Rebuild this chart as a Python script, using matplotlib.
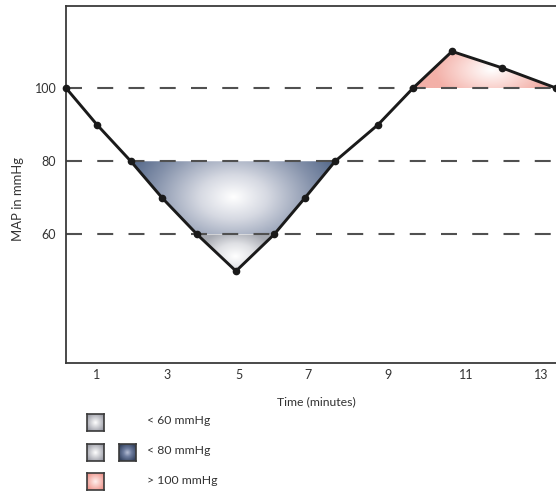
import numpy as np
import matplotlib
matplotlib.use("Agg")
import matplotlib.pyplot as plt
from matplotlib.colors import LinearSegmentedColormap
from matplotlib.patches import Polygon

# ---- data ----
time_min = [0.0, 0.82, 1.72, 2.55, 3.48, 4.51, 5.52, 6.34, 7.14, 8.28, 9.21, 10.24, 11.57, 13.0]
map_mmhg = [100, 90, 80, 70, 60, 50, 60, 70, 80, 90, 100, 110, 105.5, 100]
xtick_pos = [0.82, 2.68, 4.58, 6.42, 8.54, 10.61, 12.60]
xtick_labels = ["1", "3", "5", "7", "9", "11", "13"]
ytick_vals = [60, 80, 100]
thresholds = [60, 80, 100]
legend_labels = ["< 60 mmHg", "< 80 mmHg", "> 100 mmHg"]

plt.rcParams['font.family'] = ['Lato', 'DejaVu Sans']
plt.rcParams['lines.scale_dashes'] = False
TXT = '#333333'

W, H = 556, 492
fig = plt.figure(figsize=(W / 100, H / 100), dpi=100)
ax = fig.add_axes([66 / W, 129 / H, 490 / W, 357 / H])
ax.set_xlim(0, 13)
ax.set_ylim(24.9, 122.4)

t = np.array(time_min, float)
v = np.array(map_mmhg, float)

def make_cmap(stops):
    return LinearSegmentedColormap.from_list('g', stops)

def radial_fill(poly_xy, cmap, sx=1.0, sy=1.0, cshift=(0, 0), z=1):
    poly_xy = np.asarray(poly_xy)
    x0, x1 = poly_xy[:, 0].min(), poly_xy[:, 0].max()
    y0, y1 = poly_xy[:, 1].min(), poly_xy[:, 1].max()
    cx = (x0 + x1) / 2 + cshift[0] * (x1 - x0)
    cy = (y0 + y1) / 2 + cshift[1] * (y1 - y0)
    hw, hh = (x1 - x0) / 2, (y1 - y0) / 2
    gx = np.linspace(x0, x1, 300)
    gy = np.linspace(y0, y1, 200)
    X, Y = np.meshgrid(gx, gy)
    d = np.sqrt(((X - cx) / (hw * sx)) ** 2 + ((Y - cy) / (hh * sy)) ** 2)
    d = np.clip(d, 0, 1)
    im = ax.imshow(d, extent=(x0, x1, y0, y1), origin='lower', cmap=cmap,
                   vmin=0, vmax=1, aspect='auto', zorder=z, interpolation='bilinear')
    patch = Polygon(poly_xy, closed=True, transform=ax.transData, facecolor='none', edgecolor='none')
    ax.add_patch(patch)
    im.set_clip_path(patch)

# blue region: between the two 80-crossings, clipped at 60
idx_b = list(range(2, 9))
bp = np.column_stack([t[idx_b], np.maximum(v[idx_b], 60)])
radial_fill(bp, make_cmap([(0, '#ffffff'), (0.3, '#d6d9e2'), (0.72, '#8592ab'), (1, '#566a8b')]),
            sx=1.1, sy=2.0)

# gray region: below 60
idx_g = [4, 5, 6]
gp = np.column_stack([t[idx_g], v[idx_g]])
radial_fill(gp, make_cmap([(0, '#ffffff'), (0.5, '#dfe0e4'), (1, '#a6a9b1')]),
            sx=1.0, sy=1.4, cshift=(0, -0.1))

# pink region: above 100
idx_p = [10, 11, 12, 13]
pp = np.column_stack([t[idx_p], v[idx_p]])
radial_fill(pp, make_cmap([(0, '#ffffff'), (0.45, '#fbdcd8'), (1, '#f3b0a8')]),
            sx=0.8, sy=1.7, cshift=(0.05, 0.0))

# dashed threshold lines
for y in thresholds:
    ax.plot([0, 13], [y, y], color='#505050', lw=1.5, linestyle=(0, (11.5, 11.0)), zorder=2,
            dash_capstyle='butt')

# curve
ax.plot(t, v, color='#1a1a1a', lw=2.1, marker='o', ms=4.5, zorder=3, clip_on=False,
        solid_joinstyle='miter')

# spines
for s in ['left', 'top', 'bottom']:
    ax.spines[s].set_color('#3a3a3a')
    ax.spines[s].set_linewidth(1.3)
ax.spines['right'].set_visible(False)

ax.set_xticks(xtick_pos, xtick_labels)
ax.set_yticks(ytick_vals, [str(y) for y in ytick_vals])
ax.tick_params(axis='both', length=0, labelsize=9, labelcolor=TXT)
ax.tick_params(axis='x', pad=4)
ax.tick_params(axis='y', pad=7)

fig.text(316 / W, 1 - 402 / H, "Time (minutes)", ha='center', va='center', fontsize=8.8, color=TXT)
fig.text(18 / W, 1 - 199 / H, "MAP in mmHg", ha='center', va='center', rotation=90,
         fontsize=9.4, color=TXT)

# legend squares
def legend_square(cx, cy, stops):
    sq = 17
    lax = fig.add_axes([(cx - sq / 2) / W, 1 - (cy + sq / 2) / H, sq / W, sq / H])
    g = np.linspace(-1, 1, 60)
    X, Y = np.meshgrid(g, g)
    d = np.clip(np.sqrt(X ** 2 + Y ** 2) / 1.2, 0, 1)
    lax.imshow(d, cmap=make_cmap(stops), vmin=0, vmax=1, aspect='auto', interpolation='bilinear')
    lax.set_xticks([])
    lax.set_yticks([])
    for s in lax.spines.values():
        s.set_color('#3a3a3a')
        s.set_linewidth(1.2)

gray_stops = [(0, '#ffffff'), (1, '#9a9ca6')]
blue_stops = [(0, '#b8c0d6'), (0.4, '#6f7ea0'), (1, '#33425f')]
pink_stops = [(0, '#fff0ee'), (1, '#ee958c')]
legend_square(95.5, 422.5, gray_stops)
legend_square(95.5, 452, gray_stops)
legend_square(127.5, 452, blue_stops)
legend_square(95.5, 481.5, pink_stops)

for lab, y in zip(legend_labels, [420, 451, 481]):
    fig.text(147 / W, 1 - y / H, lab, ha='left', va='center', fontsize=8.8, color=TXT)

fig.savefig("out.png", dpi=100)
